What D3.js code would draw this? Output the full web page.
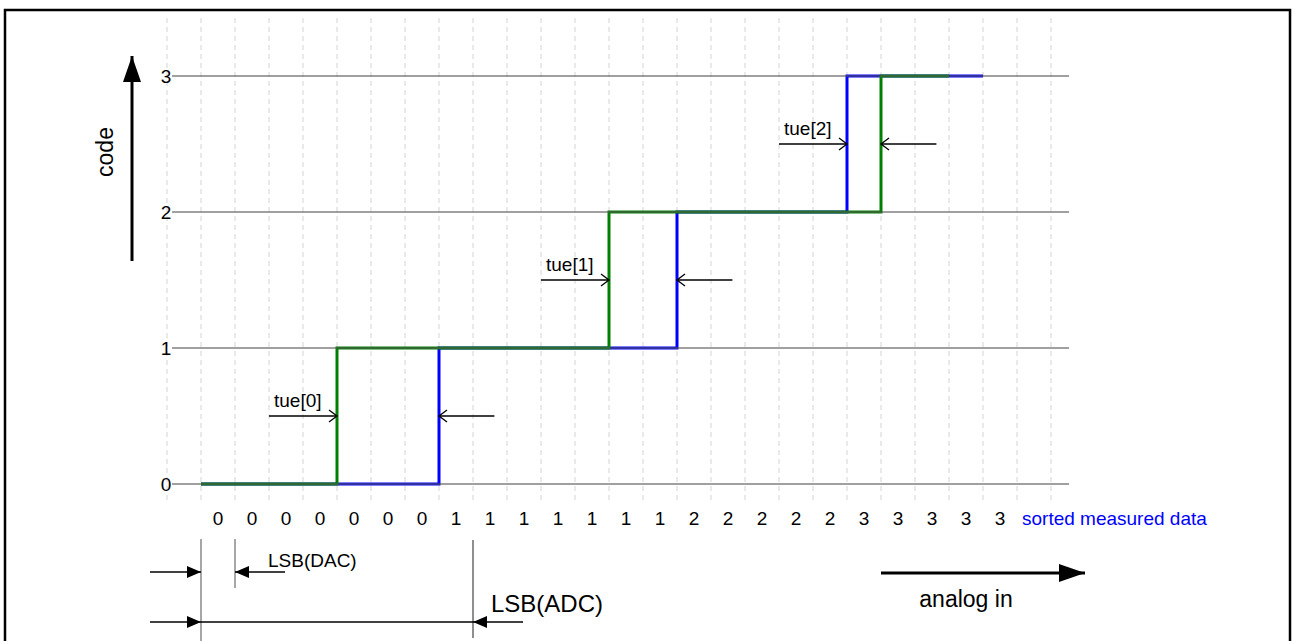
<!DOCTYPE html>
<html>
<head>
<meta charset="utf-8">
<script src="https://cdn.jsdelivr.net/npm/d3@7/dist/d3.min.js"></script>
<style>
  html, body { margin: 0; padding: 0; background: #fff; }
  svg { display: block; font-family: "Liberation Sans", Arial, sans-serif; }
</style>
</head>
<body>
<svg id="chart" width="1292" height="641"></svg>
<script>
// Output codes shown on the vertical axis
const codes = [0, 1, 2, 3];
// Sorted measured ADC output, one sample per DAC step
const measured = [0, 0, 0, 0, 0, 0, 0, 1, 1, 1, 1, 1, 1, 1, 2, 2, 2, 2, 2, 3, 3, 3, 3, 3];
// Ideal transfer function, one value per DAC step
const ideal = [0, 0, 0, 0, 1, 1, 1, 1, 1, 1, 1, 1, 2, 2, 2, 2, 2, 2, 2, 2, 3, 3, 3];
// Total unadjusted error labels, one per code transition
const tueLabels = ["tue[0]", "tue[1]", "tue[2]"];
// DAC steps that make up one ADC LSB
const lsbAdcSteps = 8;

const svg = d3.select("#chart");
const x = d3.scaleLinear().domain([0, 24]).range([201, 1017]);
const y = d3.scaleLinear().domain([0, 3]).range([484, 76]);

// outer frame
svg.append("rect")
  .attr("x", 5).attr("y", 10).attr("width", 1285).attr("height", 700)
  .attr("fill", "none").attr("stroke", "#000").attr("stroke-width", 2.5);

// arrow markers
const defs = svg.append("defs");
function filledHead(id, len, half) {
  defs.append("marker")
    .attr("id", id).attr("markerUnits", "userSpaceOnUse")
    .attr("viewBox", `0 ${-half} ${len} ${2 * half}`)
    .attr("refX", len).attr("refY", 0)
    .attr("markerWidth", len).attr("markerHeight", 2 * half)
    .attr("orient", "auto")
    .append("path").attr("d", `M0,${-half}L${len},0L0,${half}Z`).attr("fill", "#000");
}
filledHead("bigHead", 26, 9);
filledHead("smallHead", 14, 6);
defs.append("marker")
  .attr("id", "openHead").attr("markerUnits", "userSpaceOnUse")
  .attr("viewBox", "-10 -7 12 14").attr("refX", 0).attr("refY", 0)
  .attr("markerWidth", 12).attr("markerHeight", 14).attr("orient", "auto")
  .append("path").attr("d", "M-8,-6L0,0L-8,6").attr("fill", "none")
  .attr("stroke", "#000").attr("stroke-width", 1.3);

// vertical dashed grid, one line per DAC step
svg.append("g").selectAll("line")
  .data(d3.range(-1, 26))
  .join("line")
  .attr("x1", d => x(d)).attr("x2", d => x(d))
  .attr("y1", 18).attr("y2", 500)
  .attr("stroke", "#d4d4d4").attr("stroke-width", 1)
  .attr("stroke-dasharray", "5,4");

// step lines
const step = d3.line()
  .x((d, i) => x(i)).y(d => y(d))
  .curve(d3.curveStepAfter);

svg.append("path").datum(measured)
  .attr("d", step).attr("fill", "none")
  .attr("stroke", "#0000ff").attr("stroke-width", 3);
svg.append("path").datum(ideal)
  .attr("d", step).attr("fill", "none")
  .attr("stroke", "#008000").attr("stroke-width", 3);

// code reference lines and labels
svg.append("g").selectAll("line")
  .data(codes)
  .join("line")
  .attr("x1", 172).attr("x2", 1069)
  .attr("y1", d => y(d)).attr("y2", d => y(d))
  .attr("stroke", "#555").attr("stroke-opacity", 0.75).attr("stroke-width", 1.3);
svg.append("g").selectAll("text")
  .data(codes)
  .join("text")
  .attr("x", 166).attr("y", d => y(d) + 7)
  .attr("text-anchor", "middle").attr("font-size", 19).attr("fill", "#000")
  .text(d => d);

// sorted measured data row
svg.append("g").selectAll("text")
  .data(measured)
  .join("text")
  .attr("x", (d, i) => x(i + 0.5)).attr("y", 525)
  .attr("text-anchor", "middle").attr("font-size", 19).attr("fill", "#000")
  .text(d => d);
svg.append("text")
  .attr("x", x(measured.length) + 5).attr("y", 525)
  .attr("font-size", 19).attr("fill", "#0000ff")
  .text("sorted measured data");

// total unadjusted error markers at each transition
function firstIndex(arr, c) { return arr.findIndex(v => v >= c); }
tueLabels.forEach((label, k) => {
  const a = firstIndex(ideal, k + 1);
  const b = firstIndex(measured, k + 1);
  const lo = Math.min(a, b), hi = Math.max(a, b);
  const yy = y(k + 0.5);
  svg.append("line")
    .attr("x1", x(lo - 2)).attr("x2", x(lo)).attr("y1", yy).attr("y2", yy)
    .attr("stroke", "#000").attr("stroke-width", 1.3)
    .attr("marker-end", "url(#openHead)");
  svg.append("line")
    .attr("x1", x(hi + 1.63)).attr("x2", x(hi)).attr("y1", yy).attr("y2", yy)
    .attr("stroke", "#000").attr("stroke-width", 1.3)
    .attr("marker-end", "url(#openHead)");
  svg.append("text")
    .attr("x", x(lo - 2) + 5).attr("y", yy - 9)
    .attr("font-size", 19).attr("fill", "#000")
    .text(label);
});

// vertical axis arrow and title
svg.append("line")
  .attr("x1", 132).attr("x2", 132).attr("y1", 261).attr("y2", 56)
  .attr("stroke", "#000").attr("stroke-width", 3)
  .attr("marker-end", "url(#bigHead)");
svg.append("text")
  .attr("transform", "translate(113,152) rotate(-90)")
  .attr("text-anchor", "middle").attr("font-size", 23).attr("fill", "#000")
  .text("code");

// horizontal direction arrow
svg.append("line")
  .attr("x1", 881).attr("x2", 1085).attr("y1", 573).attr("y2", 573)
  .attr("stroke", "#000").attr("stroke-width", 3)
  .attr("marker-end", "url(#bigHead)");
svg.append("text")
  .attr("x", 966).attr("y", 607).attr("text-anchor", "middle")
  .attr("font-size", 23).attr("fill", "#000")
  .text("analog in");

// LSB dimension lines
const dim = svg.append("g");
dim.append("line").attr("x1", x(0)).attr("x2", x(0)).attr("y1", 539).attr("y2", 641)
  .attr("stroke", "#777").attr("stroke-width", 1.3);
dim.append("line").attr("x1", x(1)).attr("x2", x(1)).attr("y1", 539).attr("y2", 588)
  .attr("stroke", "#777").attr("stroke-width", 1.3);
dim.append("line").attr("x1", x(lsbAdcSteps)).attr("x2", x(lsbAdcSteps)).attr("y1", 540).attr("y2", 638)
  .attr("stroke", "#333").attr("stroke-width", 1.1);

function dimArrow(x1, x2, yy) {
  dim.append("line").attr("x1", x1).attr("x2", x2).attr("y1", yy).attr("y2", yy)
    .attr("stroke", "#000").attr("stroke-width", 1.5)
    .attr("marker-end", "url(#smallHead)");
}
dimArrow(150, x(0), 572);
dimArrow(285, x(1), 572);
dimArrow(150, x(0), 622);
dimArrow(523, x(lsbAdcSteps), 622);
dim.append("line").attr("x1", x(0)).attr("x2", x(lsbAdcSteps)).attr("y1", 622).attr("y2", 622)
  .attr("stroke", "#000").attr("stroke-width", 1.5);

dim.append("text").attr("x", 268).attr("y", 567)
  .attr("font-size", 19).attr("fill", "#000").text("LSB(DAC)");
dim.append("text").attr("x", 491).attr("y", 612)
  .attr("font-size", 24).attr("fill", "#000").text("LSB(ADC)");
</script>
</body>
</html>
